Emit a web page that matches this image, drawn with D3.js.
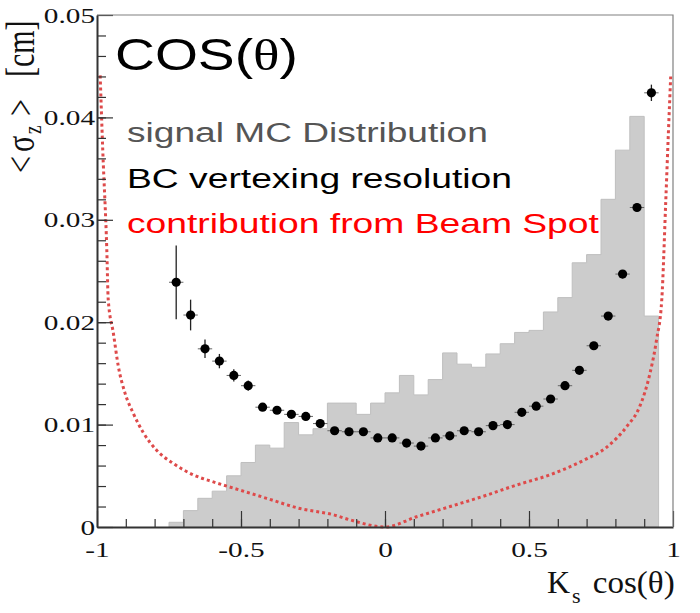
<!DOCTYPE html>
<html><head><meta charset="utf-8">
<script src="https://cdn.jsdelivr.net/npm/d3@7"></script>
<style>html,body{margin:0;padding:0;background:#fff;} svg{display:block;}</style>
</head><body>
<svg id="chart" width="700" height="613"></svg>
<script>
// ---------------- data ----------------
const histBinLow = [-0.75,-0.70,-0.65,-0.60,-0.55,-0.50,-0.45,-0.40,-0.35,-0.30,-0.25,-0.20,-0.15,-0.10,-0.05,
  0.00,0.05,0.10,0.15,0.20,0.25,0.30,0.35,0.40,0.45,0.50,0.55,0.60,0.65,0.70,0.75,0.80,0.85,0.90];
const histBinWidth = 0.05;
const histValues = [0.00046,0.0016,0.0028,0.0035,0.0050,0.0063,0.0080,0.0077,0.0102,0.0090,0.0096,0.0121,0.0121,0.0110,0.0121,
  0.0131,0.0148,0.0129,0.0144,0.0170,0.0159,0.0156,0.0169,0.0179,0.0190,0.0192,0.0210,0.0224,0.0258,0.0266,0.0320,0.0368,0.0401,0.0206];

const pointX = [-0.725,-0.675,-0.625,-0.575,-0.525,-0.475,-0.425,-0.375,-0.325,-0.275,-0.225,-0.175,-0.125,-0.075,-0.025,
  0.025,0.075,0.125,0.175,0.225,0.275,0.325,0.375,0.425,0.475,0.525,0.575,0.625,0.675,0.725,0.775,0.825,0.875,0.925];
const pointY = [0.0239,0.0207,0.0174,0.0162,0.0148,0.0138,0.0117,0.0114,0.0110,0.0108,0.0101,0.0094,0.0093,0.0093,0.0087,
  0.0087,0.0082,0.0079,0.0087,0.0089,0.0094,0.0093,0.0099,0.0100,0.0112,0.0118,0.0125,0.0138,0.0153,0.0177,0.0206,0.0247,0.0312,0.0424];
const pointErrY = [0.0036,0.0015,0.0009,0.0007,0.0006,0.0005,0.0003,0.0003,0.0003,0.0003,0.0003,0.0003,0.0003,0.0003,0.0003,
  0.0003,0.0003,0.0003,0.0003,0.0003,0.0003,0.0003,0.0003,0.0003,0.0003,0.0003,0.0003,0.0003,0.0003,0.0003,0.0003,0.0004,0.0004,0.0008];
const pointErrX = 0.025;

const beamX = [-0.989,-0.980,-0.966,-0.961,-0.943,-0.926,-0.903,-0.874,-0.839,-0.793,-0.735,-0.666,-0.596,-0.527,-0.411,-0.295,-0.180,-0.122,0.0,
  0.110,0.226,0.341,0.457,0.573,0.689,0.770,0.839,0.885,0.920,0.943,0.961,0.975,0.984,0.992];
const beamY = [0.0441,0.0368,0.0271,0.0222,0.0189,0.0157,0.0131,0.0111,0.0092,0.0075,0.0062,0.0051,0.0044,0.0038,0.0028,0.0018,0.0012,0.0007,0.0,
  0.0010,0.0020,0.0030,0.0041,0.0051,0.0065,0.0078,0.0098,0.0118,0.0150,0.0183,0.0222,0.0319,0.0385,0.0440];

const xMajorTicks = [-1,-0.5,0,0.5,1];
const xTickLabels = ["-1","-0.5","0","0.5","1"];
const yMajorTicks = [0,0.01,0.02,0.03,0.04,0.05];
const yTickLabels = ["0","0.01","0.02","0.03","0.04","0.05"];
const legendLabels = ["signal MC Distribution","BC vertexing resolution","contribution from Beam Spot"];

// ---------------- layout ----------------
const svg = d3.select("#chart");
const x = d3.scaleLinear().domain([-1,1]).range([97,673]);
const y = d3.scaleLinear().domain([0,0.05]).range([527,15]);
const SX = 1.33; // horizontal stretch of glyphs seen in the reference

// histogram (single step polygon)
const stepPts = [[histBinLow[0],0]];
histValues.forEach((v,i)=>{ stepPts.push([histBinLow[i],v]); stepPts.push([histBinLow[i]+histBinWidth,v]); });
stepPts.push([histBinLow[histBinLow.length-1]+histBinWidth,0]);
svg.append("path")
  .attr("d", d3.line().x(d=>x(d[0])).y(d=>y(d[1]))(stepPts) + "Z")
  .attr("fill","#cccccc").attr("stroke","#bfbfbf").attr("stroke-width",1);

// beam spot curve
svg.append("path")
  .datum(beamX.map((v,i)=>[v,beamY[i]]))
  .attr("d", d3.line().x(d=>x(d[0])).y(d=>y(d[1])).curve(d3.curveMonotoneX))
  .attr("fill","none").attr("stroke","#de4a4a").attr("stroke-width",3)
  .attr("stroke-dasharray","3 3");

// axes ticks
function styleAxis(g){ g.attr("color","#333"); g.selectAll(".tick line").attr("stroke-width",1.2); }
const xMinor = svg.append("g").attr("transform","translate(0,527)")
  .call(d3.axisBottom(x).tickValues(d3.range(-0.9,1,0.1)).tickSize(-8).tickSizeOuter(0).tickFormat(""));
xMinor.select(".domain").remove(); styleAxis(xMinor);
const yMinor = svg.append("g").attr("transform","translate(97,0)")
  .call(d3.axisLeft(y).tickValues(d3.range(0.002,0.05,0.002)).tickSize(-9).tickSizeOuter(0).tickFormat(""));
yMinor.select(".domain").remove(); styleAxis(yMinor);

const xAx = svg.append("g").attr("transform","translate(0,527)")
  .call(d3.axisBottom(x).tickValues(xMajorTicks).tickSize(-16).tickSizeOuter(0).tickPadding(14.5)
    .tickFormat((d,i)=>xTickLabels[i]));
styleAxis(xAx);
xAx.select(".domain").attr("stroke-width",2);
xAx.selectAll(".tick text").attr("font-family","Liberation Serif").attr("font-size",22).attr("fill","#111")
  .attr("transform",`scale(${SX},1)`);

const yAx = svg.append("g").attr("transform","translate(97,0)")
  .call(d3.axisLeft(y).tickValues(yMajorTicks).tickSize(-16).tickSizeOuter(0).tickPadding(1.5)
    .tickFormat((d,i)=>yTickLabels[i]));
styleAxis(yAx);
yAx.select(".domain").attr("stroke-width",2);
yAx.selectAll(".tick text").attr("font-family","Liberation Serif").attr("font-size",22).attr("fill","#111")
  .attr("transform",`scale(${SX},1)`);

// frame top / right
svg.append("path").attr("d",`M${x(-1)},${y(0.05)}H${x(1)}V${y(0)}`)
  .attr("fill","none").attr("stroke","#808080").attr("stroke-width",1.2);

// error bars + points
const pts = svg.append("g");
pts.selectAll("line.ex").data(pointX).join("line").attr("class","ex")
  .attr("x1",d=>x(d-pointErrX)).attr("x2",d=>x(d+pointErrX))
  .attr("y1",(d,i)=>y(pointY[i])).attr("y2",(d,i)=>y(pointY[i]))
  .attr("stroke","#666").attr("stroke-width",1);
pts.selectAll("line.ey").data(pointX).join("line").attr("class","ey")
  .attr("x1",d=>x(d)).attr("x2",d=>x(d))
  .attr("y1",(d,i)=>y(pointY[i]-pointErrY[i])).attr("y2",(d,i)=>y(pointY[i]+pointErrY[i]))
  .attr("stroke","#222").attr("stroke-width",1.3);
pts.selectAll("circle").data(pointX).join("circle")
  .attr("cx",d=>x(d)).attr("cy",(d,i)=>y(pointY[i])).attr("r",4.6).attr("fill","#000");

// ---------------- text helpers ----------------
function fitText(x0, y0, target, build, opts){
  const g = svg.append("g");
  const t = g.append("text").attr("font-family",opts.family).attr("font-size",opts.size)
    .attr("fill",opts.fill||"#000");
  build(t);
  const w = t.node().getComputedTextLength();
  const sx = target ? target / w : (opts.sx || SX);
  g.attr("transform",`translate(${x0},${y0}) scale(${sx},1)`);
  return g;
}

// title
fitText(115, 70, 183, t=>{
  t.append("tspan").text("COS(");
  t.append("tspan").attr("font-family","Liberation Serif").text("θ");
  t.append("tspan").text(")");
}, {family:"Liberation Sans", size:45});

// legend
const legendColors = ["#555555","#000000","#ff0000"];
const legendBase = [141.7,188.3,233.3];
const legendW = [361,385,472];
legendLabels.forEach((s,i)=>{
  fitText(127, legendBase[i], legendW[i], t=>t.text(s), {family:"Liberation Sans", size:28, fill:legendColors[i]});
});

// x axis title
fitText(547, 593, null, t=>t.text("K"), {family:"Liberation Serif", size:32, fill:"#111", sx:1.0});
fitText(572, 603, null, t=>t.text("s"), {family:"Liberation Serif", size:22, fill:"#111", sx:1.0});
fitText(592.7, 593, 82, t=>t.text("cos(θ)"), {family:"Liberation Serif", size:32, fill:"#111"});

// y axis title (rotated pieces)
function rotPiece(bx, ys, str, size){
  svg.append("g").attr("transform",`translate(${bx},${ys}) scale(${SX},1) rotate(-90)`)
    .append("text").attr("font-family","Liberation Serif").attr("font-size",size).attr("fill","#111").text(str);
}
rotPiece(34, 173, "<", 30);
rotPiece(34, 152, "σ", 30);
rotPiece(41, 134, "z", 19);
rotPiece(34, 116, ">", 30);
rotPiece(34, 77, "[cm]", 30);
</script>
</body></html>
